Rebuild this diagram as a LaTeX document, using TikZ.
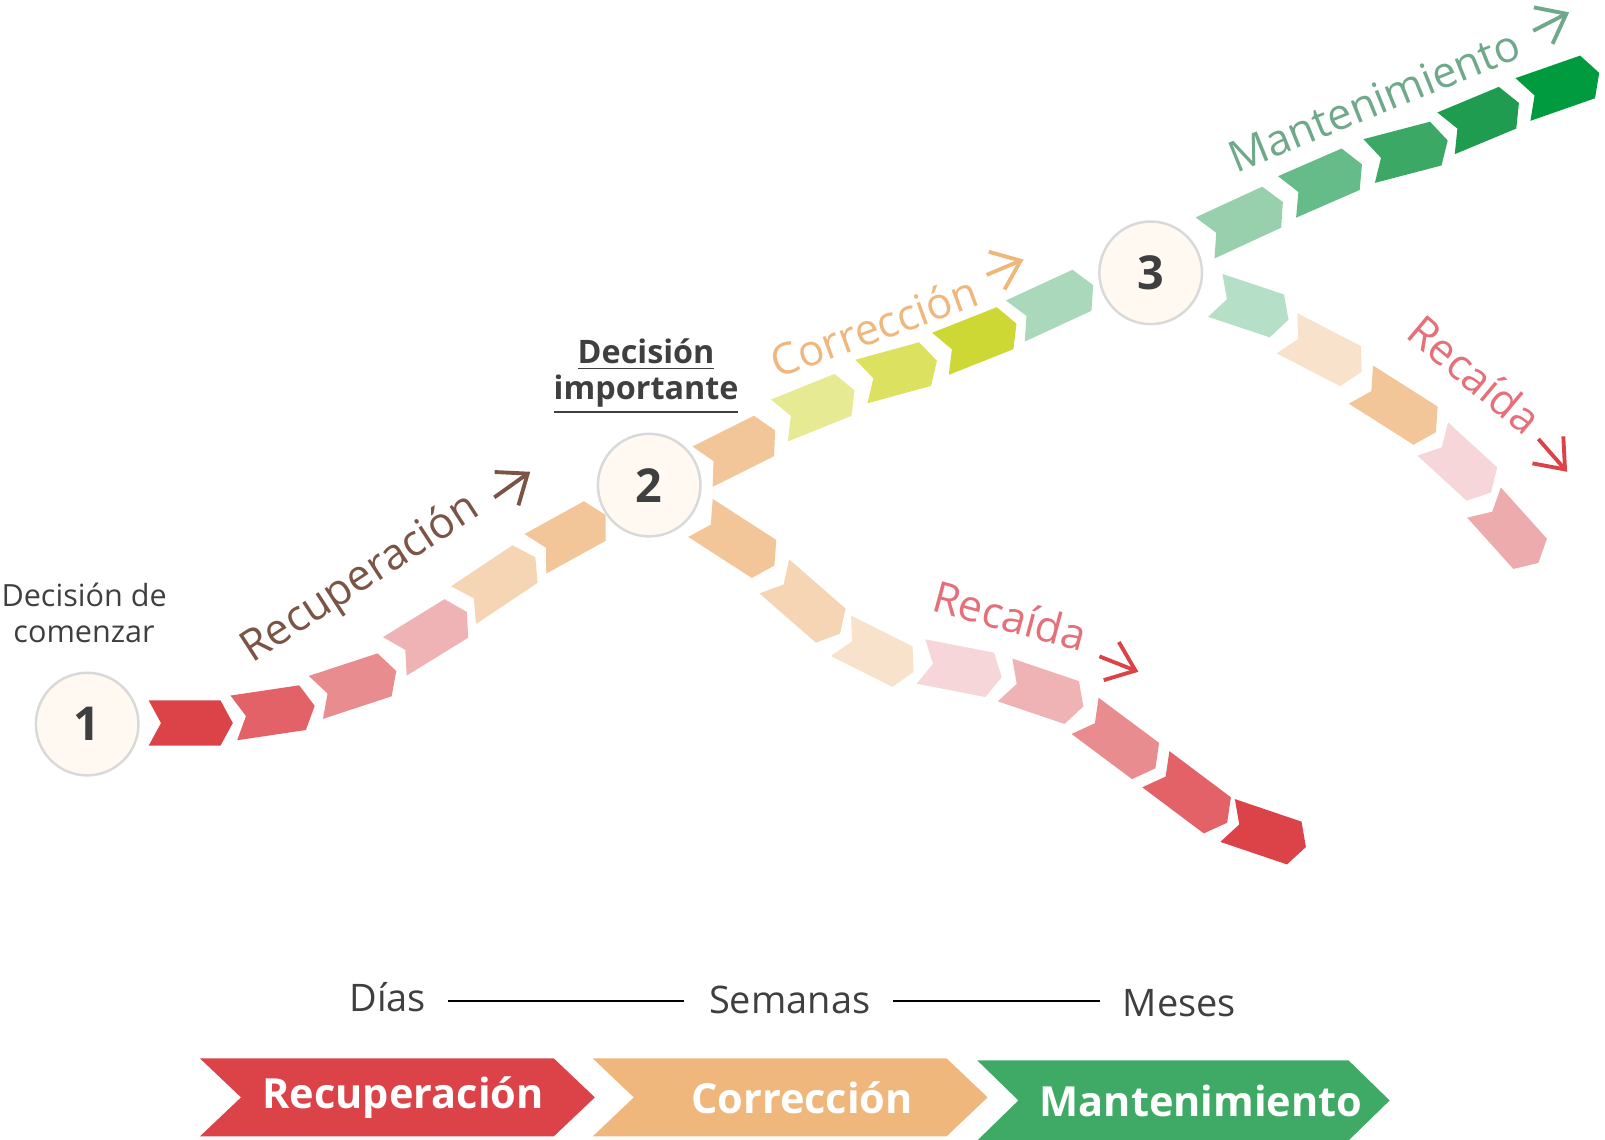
\documentclass[tikz,border=0pt]{standalone}
\usepackage{fontspec}
\setmainfont{Open Sans}
\usetikzlibrary{calc,arrows.meta}
\definecolor{cR1}{HTML}{DC4349}\definecolor{cR2}{HTML}{E36268}\definecolor{cR3}{HTML}{E98C90}
\definecolor{cR4}{HTML}{EFB3B6}\definecolor{cR5}{HTML}{F6D6D8}
\definecolor{cO1}{HTML}{F3C699}\definecolor{cO2}{HTML}{F6D5B5}\definecolor{cO3}{HTML}{F9E2CC}
\definecolor{cY1}{HTML}{E6EA93}\definecolor{cY2}{HTML}{DCE160}\definecolor{cY3}{HTML}{CDD834}
\definecolor{cG0}{HTML}{B5DFC6}\definecolor{cG1}{HTML}{A9D8BB}\definecolor{cG2}{HTML}{98D0AE}\definecolor{cG3}{HTML}{66BC89}
\definecolor{cG4}{HTML}{3BA865}\definecolor{cG5}{HTML}{209C50}\definecolor{cG6}{HTML}{009B3E}
\definecolor{bR}{HTML}{DC4349}\definecolor{bO}{HTML}{F0B77D}\definecolor{bG}{HTML}{3FAA66}
\definecolor{tBrown}{HTML}{7B5445}\definecolor{tOr}{HTML}{F0B77D}\definecolor{tGr}{HTML}{6FA88B}\definecolor{tRe}{HTML}{E5707A}
\definecolor{txt}{HTML}{3F3F3F}
\newcommand\mychev[3]{\fill[#3] ($(#1)!0.226cm!90:(#2)$) -- ($(#2)!0.226cm!-90:(#1)$) -- ($(#2)!-0.123cm!(#1)$) -- ($(#2)!0.226cm!90:(#1)$) -- ($(#1)!0.226cm!-90:(#2)$) -- ($(#1)!0.123cm!(#2)$) -- cycle;}
\begin{document}
\begin{tikzpicture}[x=0.010256cm,y=-0.010256cm,
  circ/.style={circle,draw=black!15,line width=0.7pt,fill=orange!5!white,minimum size=1.026cm,font=\bfseries\fontsize{13.3}{13.3}\selectfont,text=txt},
  lab/.style={font=\fontsize{12.3}{12.3}\selectfont},
  arr/.style={line width=1.1pt,-{Straight Barb[length=2.6mm,width=4.1mm]}},
  big/.style={font=\bfseries\fontsize{11.8}{12}\selectfont,text=white},
  tl/.style={font=\fontsize{10.8}{11}\selectfont,text=txt}]
% main path
\mychev{145,705}{215,705}{cR1}
\mychev{228,700}{295,690}{cR2}
\mychev{308,680}{375,658}{cR3}
\mychev{385,640}{445,603}{cR4}
\mychev{452,590}{512,550}{cO2}
\mychev{522,540}{580,508}{cO1}
\mychev{685,455}{745,425}{cO1}
\mychev{760,410}{822,385}{cY1}
\mychev{840,372}{902,355}{cY2}
\mychev{917,345}{980,320}{cY3}
\mychev{990,313}{1055,283}{cG1}
\mychev{1175,232}{1240,202}{cG2}
\mychev{1255,192}{1317,165}{cG3}
\mychev{1335,157}{1400,140}{cG4}
\mychev{1410,130}{1470,105}{cG5}
\mychev{1485,97}{1548,75}{cG6}
% lower from 3
\mychev{1185,288}{1245,308}{cG0}
\mychev{1255,325}{1317,357}{cO3}
\mychev{1327,375}{1390,415}{cO1}
\mychev{1397,428}{1445,472}{cR5}
\mychev{1447,490}{1492,540}{cR4!80!cR3}
% lower from 2
\mychev{683,505}{745,545}{cO1}
\mychev{755,562}{810,610}{cO2}
\mychev{820,620}{880,650}{cO3}
\mychev{898,645}{965,658}{cR5}
\mychev{980,663}{1045,685}{cR4}
\mychev{1058,698}{1117,742}{cR3}
\mychev{1127,750}{1187,795}{cR2}
\mychev{1197,800}{1262,822}{cR1}
% circles
\node[circ] (n1) at (85,706) {1};
\node[circ] (n2) at (633,473) {2};
\node[circ] (n3) at (1122,266) {3};
% labels
\node[lab,text=tBrown,rotate=33] (l1) at (352,565) {Recuperación};
\coordinate (a1s) at (482,485); \coordinate (a1e) at (517,460);
\draw[arr,tBrown] (a1s) -- (a1e);
\node[lab,text=tOr,rotate=20] (l2) at (852,318) {Corrección};
\coordinate (a2s) at (962,268); \coordinate (a2e) at (998,253);
\draw[arr,tOr] (a2s) -- (a2e);
\node[lab,text=tGr,rotate=22] (l3) at (1340,98) {Mantenimiento};
\coordinate (a3s) at (1495,30); \coordinate (a3e) at (1530,12);
\draw[arr,tGr] (a3s) -- (a3e);
\node[lab,text=tRe,rotate=-15] (l4) at (985,600) {Recaída};
\coordinate (a4s) at (1072,640); \coordinate (a4e) at (1110,655);
\draw[arr,cR1] (a4s) -- (a4e);
\node[lab,text=tRe,rotate=-40] (l5) at (1438,365) {Recaída};
\coordinate (a5s) at (1500,428); \coordinate (a5e) at (1528,460);
\draw[arr,cR1] (a5s) -- (a5e);
\node[font=\fontsize{8.7}{10.3}\selectfont,text=txt,align=center] (d1) at (82,598) {Decisión de\\comenzar};
\node[font=\bfseries\fontsize{9.2}{10.3}\selectfont,text=txt,align=center] (d2) at (630,367) {\underline{Decisión}\\\underline{importante}};
% timeline
\node[tl] (t1) at (378,972) {Días};
\node[tl] (t2) at (770,975) {Semanas};
\node[tl] (t3) at (1150,978) {Meses};
\draw[line width=0.7pt] (437,976) -- (667,976);
\draw[line width=0.7pt] (871,976) -- (1073,976);
% bottom bands
\fill[bR] (195,1032) -- (540,1032) -- (580,1070) -- (540,1108) -- (195,1108) -- (235,1070) -- cycle;
\fill[bO] (578,1032) -- (923,1032) -- (963,1070) -- (923,1108) -- (578,1108) -- (618,1070) -- cycle;
\fill[bG] (953,1034) -- (1315,1034) -- (1355,1073) -- (1315,1112) -- (953,1112) -- (993,1073) -- cycle;
\node[big] (b1) at (393,1070) {Recuperación};
\node[big] (b2) at (782,1070) {Corrección};
\node[big] (b3) at (1171,1073) {Mantenimiento};
\pgfresetboundingbox
\path[use as bounding box] (0,0) rectangle (1565,1111.5);
\end{tikzpicture}
\end{document}
